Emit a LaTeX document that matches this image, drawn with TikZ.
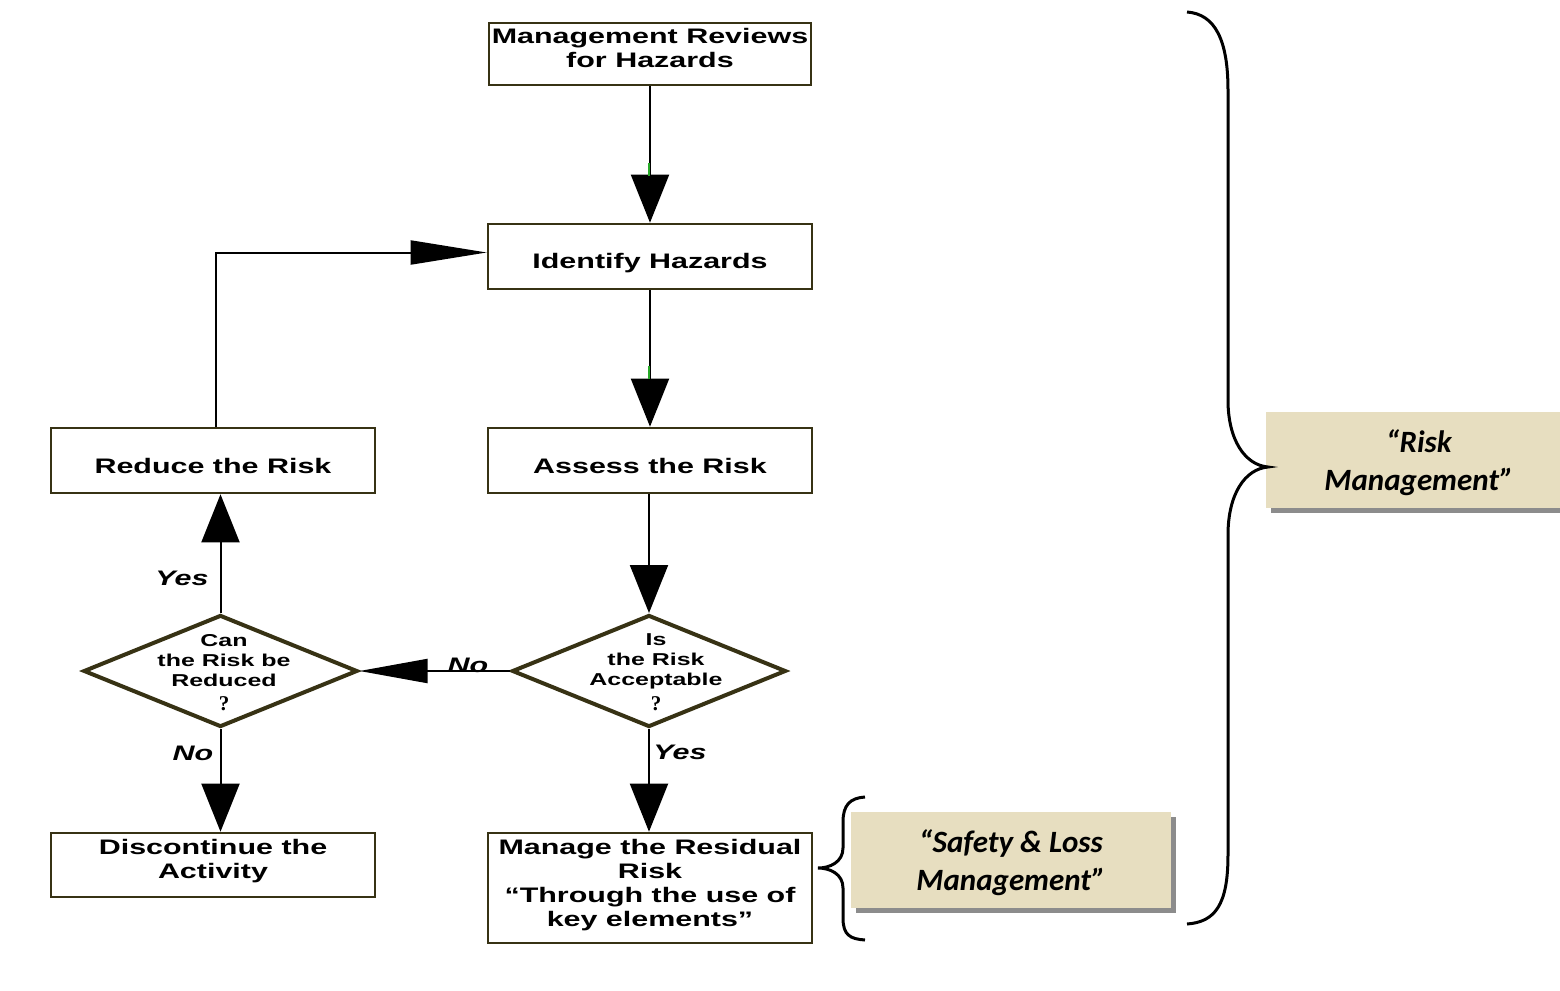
\documentclass[tikz,border=0pt]{standalone}
\usepackage{fontspec}
\usetikzlibrary{arrows.meta,shapes.geometric,shadows,calc}
\newfontfamily\boxfont{Liberation Sans}[FakeStretch=1.45]
\newfontfamily\serifq{Liberation Serif}
\newfontfamily\calfont{Carlito}
\definecolor{boxc}{RGB}{55,50,20}
\definecolor{tanc}{RGB}{231,222,192}
\definecolor{shadowc}{RGB}{140,140,140}
\definecolor{markg}{RGB}{40,170,40}
\begin{document}
\begin{tikzpicture}[x=0.5pt,y=-0.5pt,
  procbox/.style={draw=boxc, line width=1.3pt, fill=white, minimum width=162pt, minimum height=32.5pt, inner sep=0pt},
  boxtxt/.style={align=center, inner sep=0pt, font=\boxfont\bfseries\fontsize{10.5}{12}\selectfont},
  dia/.style={diamond, draw=boxc, line width=2pt, fill=white, minimum width=137pt, minimum height=56pt, inner sep=0pt},
  dtext/.style={align=center, inner sep=0pt, font=\boxfont\bfseries\fontsize{8.6}{10}\selectfont},
  qm/.style={inner sep=0pt, font=\serifq\bfseries\fontsize{10.5}{10}\selectfont},
  lab/.style={inner sep=0pt, font=\boxfont\bfseries\itshape\fontsize{10.5}{12}\selectfont},
  tanbox/.style={fill=tanc, draw=none, inner sep=0pt, drop shadow={shadow xshift=2.5pt, shadow yshift=-2.5pt, fill=shadowc, opacity=1}},
  tantxt/.style={align=center, inner sep=0pt, font=\calfont\bfseries\itshape\fontsize{15.5}{19}\selectfont},
  vline/.style={draw=black, line width=1pt, -{Triangle[length=24pt, width=19pt]}},
  hline/.style={draw=black, line width=1pt, -{Triangle[length=36pt, width=12pt]}},
  brace/.style={draw=black, line width=1.5pt},
  gmark/.style={draw=markg, line width=1.2pt}]
\useasboundingbox (0,0) rectangle (1560,991);
\fill[white] (0,0) rectangle (1560,991);

% process boxes
\node[procbox, minimum width=161pt, minimum height=31pt] (mr) at (650,54) {};
\node[boxtxt] (mrt) at ($(mr)+(0,-6)$) {Management Reviews\\for Hazards};
\node[procbox] (ih) at (650,256.5) {};
\node[boxtxt] (iht) at ($(ih)+(0,7)$) {Identify Hazards};
\node[procbox] (ar) at (650,460.5) {};
\node[boxtxt] (art) at ($(ar)+(0,5)$) {Assess the Risk};
\node[procbox] (rr) at (213,460.5) {};
\node[boxtxt] (rrt) at ($(rr)+(0,5)$) {Reduce the Risk};
\node[procbox, minimum height=32pt] (dc) at (213,865) {};
\node[boxtxt] (dct) at ($(dc)+(0,-4)$) {Discontinue the\\Activity};
\node[procbox, minimum height=55pt] (mg) at (650,888) {};
\node[boxtxt] (mgt) at ($(mg)+(0,-3)$) {Manage the Residual\\Risk\\“Through the use of\\key elements”};

% decisions
\node[dia] (d1) at (649,671) {};
\node[dtext] (d1t) at (656,661) {Is\\the Risk\\Acceptable};
\node[qm] (d1q) at (656,704) {?};
\node[dia] (d2) at (220.5,671) {};
\node[dtext] (d2t) at (224,661) {Can\\the Risk be\\Reduced};
\node[qm] (d2q) at (224,704) {?};

% connectors
\draw[vline] (mr) -- (ih);
\draw[vline] (ih) -- (ar);
\draw[vline] (d1.north |- ar.south) -- (d1.north);
\draw[hline, -{Triangle[length=34pt, width=12pt]}] (d1.west) -- (d2.east);
\draw[vline] (d1.south) -- (d1.south |- mg.north);
\draw[vline] (d2.north) -- (d2.north |- rr.south);
\draw[vline] (d2.south) -- (d2.south |- dc.north);
\draw[hline, -{Triangle[length=38pt, width=12pt]}] ($(rr.north)+(3,0)$) |- ($(ih.west)+(0,-4)$);

% small green marks
\draw[gmark] (649,163) -- (649,176);
\draw[gmark] (649,366) -- (649,379);

% labels
\node[lab] (lno1) at (468,665) {No};
\node[lab] (lyes1) at (680,752) {Yes};
\node[lab] (lyes2) at (182,578) {Yes};
\node[lab] (lno2) at (193,753) {No};

% tan boxes
\node[tanbox, minimum width=160pt, minimum height=48pt] (sl) at (1011,860) {};
\node[tantxt] (slt) at ($(sl)+(0,3)$) {“Safety \& Loss\\Management”};
\node[tanbox, minimum width=153pt, minimum height=48pt] (rm) at (1419,460) {};
\node[tantxt] (rmt) at ($(rm)+(0,3)$) {“Risk\\Management”};

% braces
\draw[brace] (1187,12) .. controls (1215,14) and (1228,40) .. (1228,90) -- (1228,400)
  .. controls (1228,440) and (1245,465) .. (1268,467)
  .. controls (1245,469) and (1228,494) .. (1228,535) -- (1228,855)
  .. controls (1228,905) and (1215,922) .. (1187,924);
\draw[brace] (865,797) .. controls (850,798) and (843,805) .. (843,822) -- (843,848)
  .. controls (843,862) and (830,868) .. (818,868)
  .. controls (830,868) and (843,874) .. (843,888) -- (843,918)
  .. controls (843,935) and (850,939) .. (865,940);
\end{tikzpicture}
\end{document}
